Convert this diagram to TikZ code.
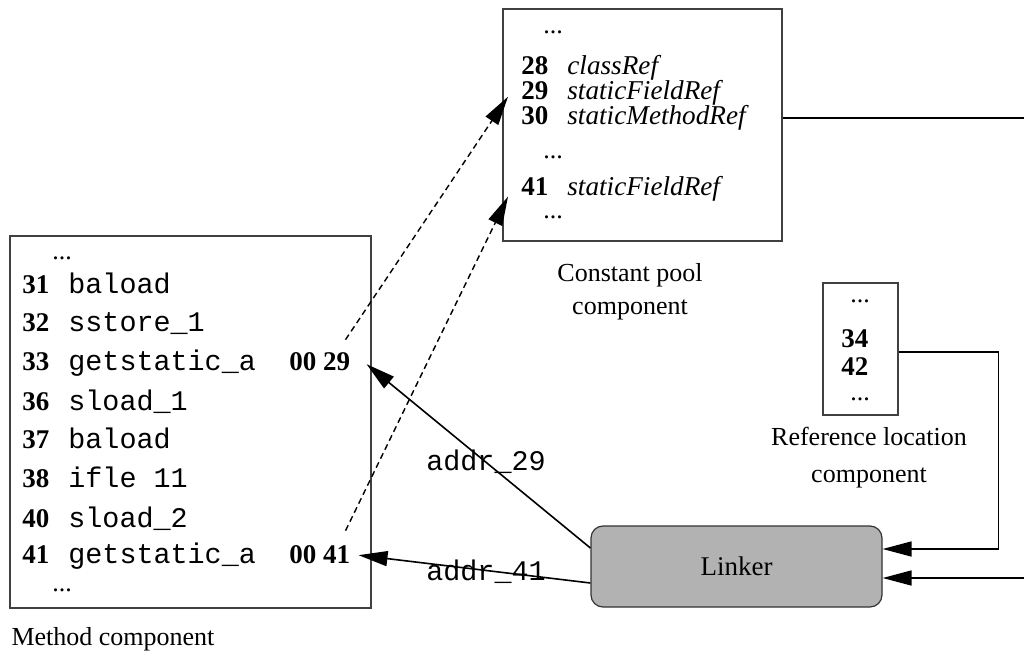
\documentclass[tikz,border=0pt]{standalone}
\usepackage{fontspec}
\setmainfont{Liberation Serif}
\setmonofont{Liberation Mono}
\usetikzlibrary{arrows.meta,fit,calc}
\begin{document}
\begin{tikzpicture}[x=0.5pt,y=-0.5pt,
  box/.style={draw=black!75,line width=0.6pt,inner sep=0pt},
  num/.style={anchor=base west,inner sep=0pt,font=\fontsize{13.5}{16}\selectfont\bfseries},
  code/.style={anchor=base west,inner sep=0pt,font=\fontsize{14.2}{16}\selectfont\ttfamily},
  ital/.style={anchor=base west,inner sep=0pt,font=\fontsize{13.6}{16}\selectfont\itshape},
  ellip/.style={anchor=base west,inner sep=0pt,font=\fontsize{13}{16}\selectfont},
  lbl/.style={anchor=base,inner sep=0pt,font=\fontsize{13}{16}\selectfont},
  linkerbox/.style={draw=black!80,fill=black!30,line width=0.6pt,rounded corners=6pt,
    minimum width=145.5pt,minimum height=40.5pt,inner sep=0pt,font=\fontsize{13.5}{16}\selectfont},
  conn/.style={line width=0.8pt},
  tip/.style={-{Triangle[length=14.5pt,width=7.5pt]}},
  dashconn/.style={line width=0.7pt,dash pattern=on 3pt off 2pt}
]
\useasboundingbox (0,0) rectangle (1024,653);

% Method component
\node[box,fit={(10,236)(371,608)}] (method) {};
\node[ellip] (md1) at (52,259) {...};
\node[num] (n31) at (22,293) {31}; \node[code] (c31) at (68,293) {baload};
\node[num] (n32) at (22,331) {32}; \node[code] (c32) at (68,331) {sstore\_1};
\node[num] (n33) at (22,370) {33}; \node[code] (c33) at (68,370) {getstatic\_a};
\node[num] (op29) at (289,370) {00 29};
\node[num] (n36) at (22,410) {36}; \node[code] (c36) at (68,410) {sload\_1};
\node[num] (n37) at (22,448) {37}; \node[code] (c37) at (68,448) {baload};
\node[num] (n38) at (22,487) {38}; \node[code] (c38) at (68,487) {ifle 11};
\node[num] (n40) at (22,527) {40}; \node[code] (c40) at (68,527) {sload\_2};
\node[num] (n41m) at (22,563) {41}; \node[code] (c41) at (68,563) {getstatic\_a};
\node[num] (op41) at (289,563) {00 41};
\node[ellip] (md2) at (52,591) {...};
\node[lbl] (methodlbl) at (113,645) {Method component};

% Constant pool component
\node[box,fit={(503,9)(782,241)}] (cp) {};
\node[ellip] (cd1) at (543,33) {...};
\node[num] (n28) at (521,74) {28}; \node[ital] (r28) at (567,74) {classRef};
\node[num] (n29) at (521,99) {29}; \node[ital] (r29) at (567,99) {staticFieldRef};
\node[num] (n30) at (521,124) {30}; \node[ital] (r30) at (567,124) {staticMethodRef};
\node[ellip] (cd2) at (543,158) {...};
\node[num] (n41) at (521,195) {41}; \node[ital] (r41) at (567,195) {staticFieldRef};
\node[ellip] (cd3) at (543,218) {...};
\node[lbl] (cplbl1) at (630,281) {Constant pool};
\node[lbl] (cplbl2) at (630,314) {component};

% Reference location component
\node[box,fit={(823,283)(898,415)}] (ref) {};
\node[ellip] (rd1) at (850,302) {...};
\node[num] (n34) at (841,347) {34};
\node[num] (n42) at (841,375) {42};
\node[ellip] (rd2) at (850,400) {...};
\node[lbl] (reflbl1) at (869,445) {Reference location};
\node[lbl] (reflbl2) at (869,482) {component};

% Linker
\node[linkerbox] (linker) at (736.5,566.5) {Linker};

% solid arrows from linker
\draw[conn,tip] ([yshift=9.25pt]linker.west) -- ($(op29.east)+(16,3)$);
\draw[conn,tip] ([yshift=-8.25pt]linker.west) -- ($(op41.east)+(8,1)$);
\node[code,anchor=center] (a29) at (486,462) {addr\_29};
\node[code,anchor=center] (a41) at (486,572) {addr\_41};

% dashed arrows to constant pool
\draw[dashconn,tip] ($(op29.north east)+(-5,-12)$) -- ($(n29.west)+(-13,6.5)$);
\draw[dashconn,tip] ($(op41.north east)+(-5,-14)$) -- ($(n41.west)+(-13,10.5)$);

% right side lines
\coordinate (cpout) at (1024,118);
\draw[conn] (cp.east |- cpout) -- (cpout);
\draw[conn,tip] ([yshift=-1.5pt]ref.east) -- ++(100,0) |- ([yshift=8.75pt]linker.east);
\coordinate (rin) at (1024,578);
\draw[conn,tip] (rin) -- (linker.east |- rin);
\end{tikzpicture}
\end{document}
